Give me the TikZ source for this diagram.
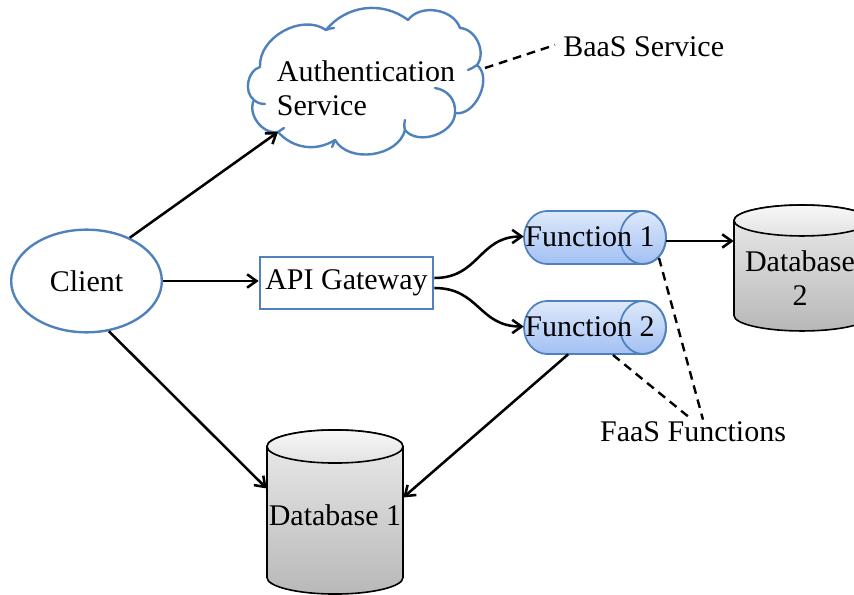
\documentclass[tikz,border=0pt]{standalone}
\usepackage{fontspec}
\setmainfont{Liberation Serif}
\usetikzlibrary{shapes.geometric,arrows.meta,calc}

\definecolor{outline}{RGB}{79,129,189}
\definecolor{fnTop}{RGB}{222,233,251}
\definecolor{fnBot}{RGB}{162,192,243}
\definecolor{dbTop}{RGB}{236,236,236}
\definecolor{dbBot}{RGB}{184,184,184}
\definecolor{capTop}{RGB}{248,248,248}
\definecolor{capBot}{RGB}{226,226,226}

\tikzset{
  lbl/.style={font=\fontsize{22.5}{25.5}\selectfont, inner sep=0pt},
  box/.style={draw=none, inner sep=0pt},
  flow/.style={line width=1.9pt, -{Straight Barb[length=7pt,width=10pt,line width=1.9pt]}},
  hint/.style={line width=1.8pt, dash pattern=on 6.5pt off 4.5pt},
  blueline/.style={draw=outline, line width=1.8pt},
  cylline/.style={draw=outline, line width=1.3pt},
  dbline/.style={draw=black, line width=1.2pt},
}

\begin{document}
\begin{tikzpicture}[x=0.75pt, y=-0.75pt]
\useasboundingbox (0,0) rectangle (854,595);

% Client
\node[ellipse, blueline, minimum width=113pt, minimum height=77pt, lbl] (cl) at (86.5,281) {Client};

% API gateway
\node[rectangle, blueline, minimum width=130pt, minimum height=39pt, lbl] (api) at (346.5,283) {API Gateway};

% Authentication cloud, drawn lobe by lobe
\coordinate (j0) at (278,132);
\coordinate (j1) at (254,100);
\coordinate (j2) at (260,67);
\coordinate (j3) at (326,30);
\coordinate (j4) at (408,20);
\coordinate (j5) at (460,28);
\coordinate (j6) at (477,65);
\coordinate (j7) at (455,113);
\coordinate (j8) at (405,130);
\coordinate (j9) at (335,140);
\draw[blueline, fill=white, line join=round]
  (j0) to[bend left=64] (j1) to[bend left=64] (j2) to[bend left=64] (j3)
  to[bend left=44] (j4) to[bend left=62] (j5) to[bend left=62] (j6)
  to[bend left=76] (j7) to[bend left=70] (j8) to[bend left=68] (j9)
  to[bend left=40] cycle;
% small inner arcs where the lobes meet
\draw[blueline, line cap=round]
  (j7) .. controls (456,100) and (448,90) .. (435,88)
  (j1) .. controls (257,103) and (261,104) .. (265,104)
  (j3) .. controls (328,29) and (331,28) .. (334,28)
  (j6) .. controls (474,67) and (471,69) .. (468,70)
  (j8) .. controls (404,126) and (404,123) .. (405,120)
  (j0) .. controls (280,131) and (282,129) .. (284,128)
  (j9) .. controls (334,143) and (333,145) .. (332,147);
\node[box, minimum width=180pt, minimum height=112.5pt] (auth) at (365,85) {};
\coordinate (authR) at (485,68);
\node[lbl, align=left] (authtxt) at (366,88) {Authentication\\Service};
\node[lbl, anchor=west] (baas) at (563,47) {BaaS Service};

% Function 1 (horizontal cylinder)
\path[top color=fnTop, bottom color=fnBot, cylline]
  (547,211) -- (643,211) arc[start angle=90, end angle=-90, x radius=17.25pt, y radius=19.875pt]
  -- (547,264) arc[start angle=270, end angle=90, x radius=17.25pt, y radius=19.875pt] -- cycle;
\draw[cylline] (643,237.5) ellipse[x radius=17.25pt, y radius=19.875pt];
\node[box, minimum width=106.5pt, minimum height=39.75pt] (f1) at (595,237.5) {};
\node[lbl] at (590,237) {Function 1};

% Function 2 (horizontal cylinder)
\path[top color=fnTop, bottom color=fnBot, cylline]
  (547,301) -- (643,301) arc[start angle=90, end angle=-90, x radius=17.25pt, y radius=19.875pt]
  -- (547,354) arc[start angle=270, end angle=90, x radius=17.25pt, y radius=19.875pt] -- cycle;
\draw[cylline] (643,327.5) ellipse[x radius=17.25pt, y radius=19.875pt];
\node[box, minimum width=106.5pt, minimum height=39.75pt] (f2) at (595,327.5) {};
\node[lbl] at (590,327) {Function 2};

% Database 2 (vertical cylinder)
\path[top color=dbTop, bottom color=dbBot, dbline]
  (734,220.5) -- (734,315.5) arc[start angle=180, end angle=360, x radius=51pt, y radius=11.6pt]
  -- (870,220.5) arc[start angle=0, end angle=180, x radius=51pt, y radius=11.6pt] -- cycle;
\draw[top color=capTop, bottom color=capBot, dbline] (802,220.5) ellipse[x radius=51pt, y radius=11.6pt];
\node[box, minimum width=102pt, minimum height=94.5pt] (db2) at (802,268) {};
\node[lbl, align=center] at (800,278) {Database\\2};

% Database 1 (vertical cylinder)
\path[top color=dbTop, bottom color=dbBot, dbline]
  (267,446.5) -- (267,577.5) arc[start angle=180, end angle=360, x radius=51pt, y radius=12.4pt]
  -- (403,446.5) arc[start angle=0, end angle=180, x radius=51pt, y radius=12.4pt] -- cycle;
\draw[top color=capTop, bottom color=capBot, dbline] (335,446.5) ellipse[x radius=51pt, y radius=12.4pt];
\node[box, minimum width=102pt, minimum height=123pt] (db1) at (335,512) {};
\node[lbl] at (335,515) {Database 1};

\node[lbl] (faas) at (693,432) {FaaS Functions};

% Connectors
\coordinate (f1out) at (666,241);
\coordinate (f1foot) at (659,258);
\coordinate (f2foot) at (613,355);
\draw[flow] (cl.45) -- (j0);
\draw[flow] (cl.east) -- (cl.east -| api.west);
\draw[flow] (cl.-66) -- (db1.161);
\draw[flow] ($(api.east)+(0,-5)$) .. controls +(45,0) and +(-45,0) .. ($(f1.west)+(0,-1)$);
\draw[flow] ($(api.east)+(0,5)$) .. controls +(45,0) and +(-45,0) .. ($(f2.west)+(0,-1)$);
\draw[flow] (f1out) -- (f1out -| db2.west);
\draw[flow] (f2.225) -- (db1.12);

% Dashed annotations
\draw[hint] (authR) -- ($(baas.west)+(-8,-2)$);
\draw[hint] (f1foot) -- ($(faas.north)+(10,-2)$);
\draw[hint] (f2foot) -- ($(faas.north)+(-1,-2)$);
\end{tikzpicture}
\end{document}
